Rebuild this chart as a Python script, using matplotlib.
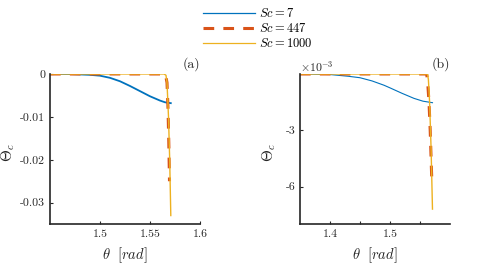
import matplotlib
matplotlib.use("Agg")
import matplotlib.pyplot as plt

plt.rcParams['font.family'] = 'serif'
plt.rcParams['font.serif'] = ['cmr10', 'DejaVu Serif']
plt.rcParams['mathtext.fontset'] = 'cm'
plt.rcParams['axes.formatter.use_mathtext'] = True

# panel (a)
th_a7 = [1.45, 1.47, 1.49, 1.50, 1.51, 1.52, 1.53, 1.54, 1.55, 1.56, 1.565, 1.5708]
tc_a7 = [0, -0.00002, -0.0002, -0.0004, -0.0009, -0.0017, -0.0028, -0.0040, -0.0052, -0.0062, -0.0066, -0.0068]
th_a447 = [1.45, 1.563, 1.5655, 1.567, 1.568, 1.5688, 1.5695]
tc_a447 = [0, 0, -0.0002, -0.002, -0.008, -0.016, -0.025]
th_a1000 = [1.45, 1.564, 1.566, 1.567, 1.5685, 1.5697, 1.5708]
tc_a1000 = [0, 0, -0.0003, -0.002, -0.010, -0.020, -0.033]

# panel (b)
th_b7 = [1.35, 1.40, 1.43, 1.45, 1.47, 1.49, 1.50, 1.52, 1.54, 1.555, 1.5708]
tc_b7 = [0, -0.03e-3, -0.12e-3, -0.2e-3, -0.37e-3, -0.6e-3, -0.74e-3, -1.03e-3, -1.3e-3, -1.45e-3, -1.53e-3]
th_b447 = [1.35, 1.561, 1.5625, 1.565, 1.567, 1.5695]
tc_b447 = [0, 0, -0.3e-3, -1.5e-3, -3e-3, -5.5e-3]
th_b1000 = [1.35, 1.5625, 1.564, 1.566, 1.5685, 1.5708]
tc_b1000 = [0, 0, -0.3e-3, -1.5e-3, -4e-3, -7.2e-3]

labels = [r'$Sc=7$', r'$Sc=447$', r'$Sc=1000$']
blue, orange, yellow = '#0072BD', '#D95319', '#EDB120'
grey = '#262626'

fig = plt.figure(figsize=(5, 2.75), dpi=100)
ax1 = fig.add_axes([0.1, 0.185, 0.3, 0.546])
ax2 = fig.add_axes([0.6, 0.185, 0.3, 0.546])

l1, = ax1.plot(th_a7, tc_a7, color=blue, lw=1.3)
l2, = ax1.plot(th_a447, tc_a447, color=orange, lw=2.2, dashes=(3.5, 3))
l3, = ax1.plot(th_a1000, tc_a1000, color=yellow, lw=1.0)

ax2.plot(th_b7, tc_b7, color=blue, lw=0.8)
ax2.plot(th_b447, tc_b447, color=orange, lw=2.2, dashes=(3.5, 3))
ax2.plot(th_b1000, tc_b1000, color=yellow, lw=1.0)

ax1.set_xlim(1.45, 1.6)
ax1.set_ylim(-0.035, 0)
ax1.set_xticks([1.5, 1.55, 1.6])
ax1.set_xticklabels(['1.5', '1.55', '1.6'])
ax1.set_yticks([-0.03, -0.02, -0.01, 0])
ax1.set_yticklabels(['-0.03', '-0.02', '-0.01', '0'])

ax2.set_xlim(1.35, 1.6)
ax2.set_ylim(-8e-3, 0)
ax2.set_xticks([1.4, 1.45, 1.5, 1.55])
ax2.set_xticklabels(['1.4', '', '1.5', ''])
ax2.set_yticks([-6e-3, -3e-3])
ax2.set_yticklabels(['-6', '-3'])
ax2.text(0.0, 1.015, r'$\times10^{-3}$', transform=ax2.transAxes, fontsize=8.5, color=grey)

for ax, tag, ylx in [(ax1, '(a)', -0.22), (ax2, '(b)', -0.147)]:
    ax.spines['top'].set_visible(False)
    ax.spines['right'].set_visible(False)
    for s in ['left', 'bottom']:
        ax.spines[s].set_color(grey)
        ax.spines[s].set_linewidth(1.2)
    ax.tick_params(direction='in', length=2.5, width=0.8, color=grey, labelcolor=grey, labelsize=8.5)
    ax.set_xlabel(r'$\theta\ \ [rad]$', fontsize=10.5, color=grey, labelpad=5)
    ax.set_ylabel(r'$\Theta_c$', fontsize=11, color=grey)
    ax.yaxis.set_label_coords(ylx, 0.48)
    ax.text(0.94, 1.04, tag, transform=ax.transAxes, fontsize=10, color=grey, ha='center')

leg = fig.legend([l1, l2, l3], labels, loc='upper center', bbox_to_anchor=(0.515, 1.015),
                 frameon=False, fontsize=9, handlelength=4.2, handletextpad=0.3, labelspacing=0.15)
for h, w in zip(leg.get_lines(), [0.9, 2.2, 0.9]):
    h.set_linewidth(w)

fig.savefig('out.png', dpi=100)
